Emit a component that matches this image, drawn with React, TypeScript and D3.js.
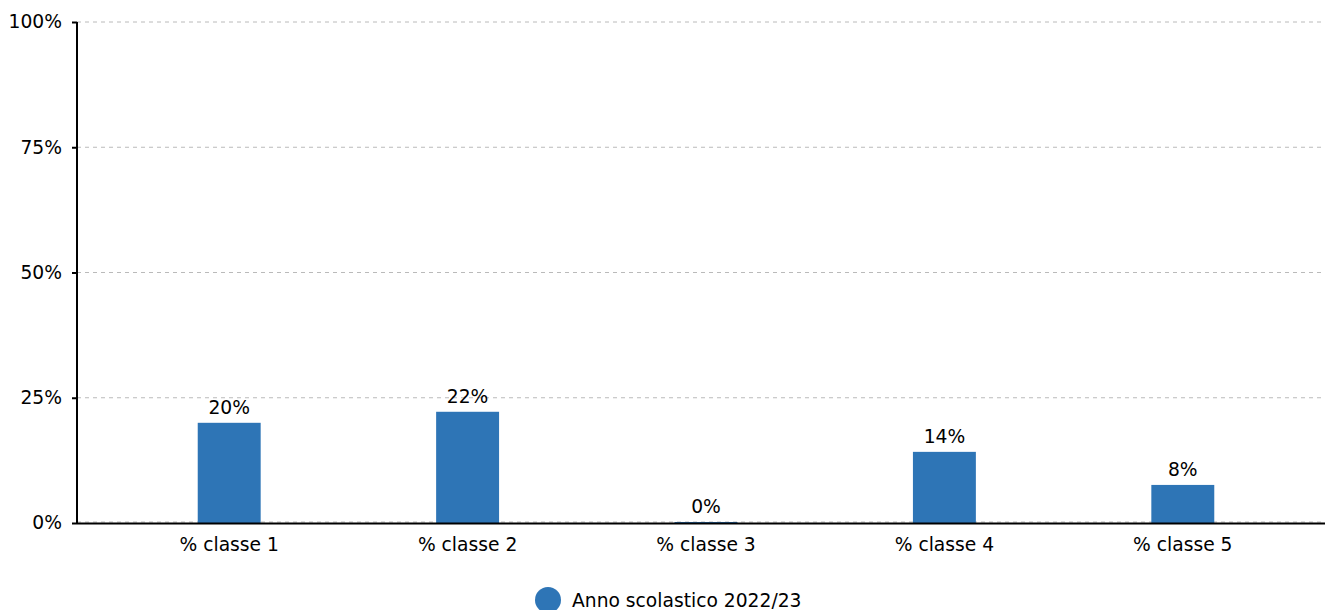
import React, { useEffect, useRef } from 'react';
import * as d3 from 'd3';

// Chart data
const categories = ['% classe 1', '% classe 2', '% classe 3', '% classe 4', '% classe 5'];
const values = [20, 22.2, 0.2, 14.2, 7.6];
const yTicks = [0, 25, 50, 75, 100];
const seriesName = 'Anno scolastico 2022/23';

const App = () => {
  const ref = useRef<SVGSVGElement | null>(null);

  useEffect(() => {
    const width = 1325;
    const height = 610;
    const margin = { top: 22, right: 0, bottom: 87, left: 77 };
    const font = 'DejaVu Sans, sans-serif';
    const fontSize = '18.7px';
    const barColor = '#2e75b6';

    const svg = d3.select(ref.current);
    svg.selectAll('*').remove();

    // Scales
    const x = d3.scaleBand<string>()
      .domain(categories)
      .range([110, 1302])
      .paddingInner(0.736)
      .paddingOuter(0.368);

    const y = d3.scaleLinear()
      .domain([0, 100])
      .range([height - margin.bottom, margin.top]);

    // Dashed grid lines
    svg.append('g')
      .selectAll('line')
      .data(yTicks)
      .enter()
      .append('line')
      .attr('x1', margin.left)
      .attr('x2', width)
      .attr('y1', d => y(d) - (d === 0 ? 1 : 0))
      .attr('y2', d => y(d) - (d === 0 ? 1 : 0))
      .attr('stroke', '#bababa')
      .attr('stroke-width', 1)
      .attr('stroke-dasharray', '4,4');

    // Bars
    svg.append('g')
      .selectAll('rect')
      .data(values)
      .enter()
      .append('rect')
      .attr('x', (d, i) => x(categories[i]) as number)
      .attr('y', d => y(d))
      .attr('width', x.bandwidth())
      .attr('height', d => y(0) - y(d))
      .attr('fill', barColor);

    // Value labels
    svg.append('g')
      .selectAll('text')
      .data(values)
      .enter()
      .append('text')
      .attr('x', (d, i) => (x(categories[i]) as number) + x.bandwidth() / 2)
      .attr('y', d => y(d) - 9)
      .attr('text-anchor', 'middle')
      .style('font-family', font)
      .style('font-size', fontSize)
      .attr('fill', '#000')
      .text(d => `${Math.round(d)}%`);

    // Baseline
    svg.append('line')
      .attr('x1', margin.left)
      .attr('x2', width)
      .attr('y1', y(0) + 0.5)
      .attr('y2', y(0) + 0.5)
      .attr('stroke', '#000')
      .attr('stroke-width', 2);

    // Y axis
    const yAxis = svg.append('g')
      .attr('transform', `translate(${margin.left},0)`)
      .call(d3.axisLeft(y).tickValues(yTicks).tickSize(5).tickPadding(10).tickFormat(d => `${d}%`));
    yAxis.select('.domain')
      .attr('stroke', '#000')
      .attr('stroke-width', 2)
      .attr('d', `M0,${y(100)}V${y(0) + 1}`);
    yAxis.selectAll('.tick line').attr('stroke', '#000').attr('stroke-width', 2);
    yAxis.selectAll('text')
      .style('font-family', font)
      .style('font-size', fontSize)
      .attr('fill', '#000');

    // X axis labels
    const xAxis = svg.append('g')
      .attr('transform', `translate(0,${y(0)})`)
      .call(d3.axisBottom(x).tickSize(0).tickPadding(15));
    xAxis.select('.domain').remove();
    xAxis.selectAll('text')
      .style('font-family', font)
      .style('font-size', fontSize)
      .attr('fill', '#000');

    // Legend
    const legend = svg.append('g').attr('transform', 'translate(548,600)');
    legend.append('circle')
      .attr('r', 13)
      .attr('fill', barColor);
    legend.append('text')
      .attr('x', 24)
      .attr('y', 6.5)
      .style('font-family', font)
      .style('font-size', fontSize)
      .attr('fill', '#000')
      .text(seriesName);
  }, []);

  return (
    <svg
      ref={ref}
      width={1325}
      height={610}
      style={{ position: 'absolute', left: 0, top: 0, display: 'block', background: '#fff' }}
    />
  );
};

export default App;
